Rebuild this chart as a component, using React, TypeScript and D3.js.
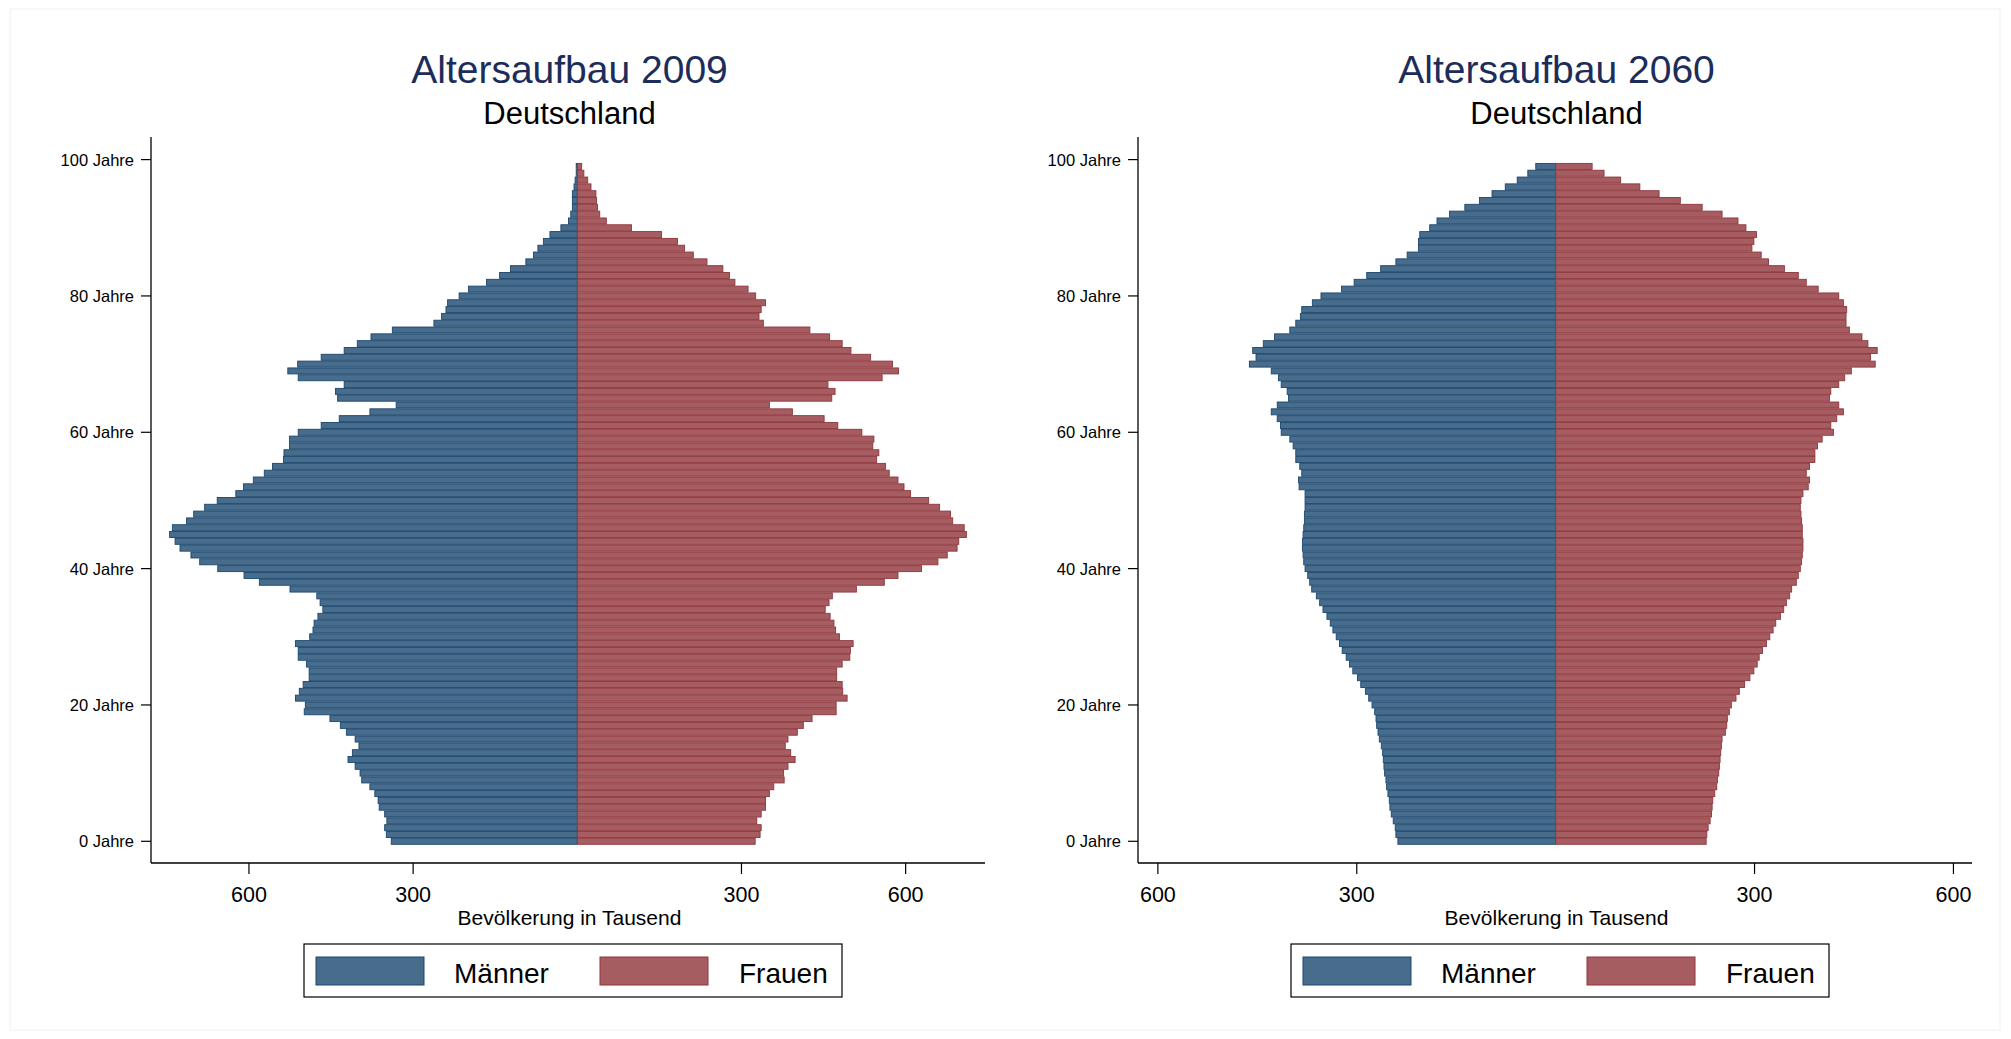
import React, { useEffect, useRef } from 'react';
import * as d3 from 'd3';

// Bevölkerung in Tausend, Alter 0 bis 99
const ages = d3.range(0, 100);

const men2009 = [
  340, 349, 352, 348, 352, 362, 364, 370, 379, 394,
  397, 406, 419, 411, 399, 406, 422, 433, 452, 499,
  497, 515, 508, 501, 490, 490, 495, 510, 510, 515,
  489, 483, 481, 474, 465, 470, 476, 525, 581, 609,
  657, 690, 706, 726, 735, 745, 740, 714, 701, 681,
  658, 624, 610, 592, 572, 557, 537, 536, 526, 526,
  510, 468, 435, 379, 331, 438, 442, 426, 510, 529,
  511, 468, 426, 402, 377, 338, 262, 248, 240, 237,
  216, 199, 166, 142, 122, 94, 80, 72, 62, 50,
  30, 16, 12, 9, 9, 9, 6, 4, 2, 2,
];

const women2009 = [
  325, 334, 336, 328, 336, 344, 344, 351, 359, 378,
  377, 385, 398, 390, 380, 385, 402, 413, 429, 473,
  473, 493, 485, 484, 474, 474, 484, 498, 499, 504,
  479, 472, 469, 462, 453, 460, 466, 510, 561, 586,
  629, 659, 676, 694, 697, 711, 707, 686, 682, 662,
  642, 609, 597, 586, 570, 563, 547, 551, 540, 542,
  520, 476, 451, 393, 351, 465, 471, 458, 557, 587,
  576, 536, 500, 484, 461, 425, 340, 332, 336, 344,
  326, 312, 288, 278, 266, 237, 212, 196, 183, 154,
  99, 53, 41, 37, 35, 34, 25, 19, 12, 8,
];

const men2060 = [
  238, 241, 242, 245, 248, 250, 251, 253, 255, 256,
  258, 259, 260, 261, 263, 266, 268, 270, 271, 273,
  277, 282, 287, 294, 299, 306, 311, 316, 322, 326,
  331, 336, 340, 345, 351, 356, 361, 368, 371, 374,
  378, 380, 381, 382, 382, 381, 380, 379, 379, 378,
  378, 378, 387, 388, 383, 386, 392, 392, 396, 401,
  414, 415, 420, 429, 420, 403, 405, 414, 418, 429,
  462, 452, 457, 441, 424, 401, 392, 385, 383, 367,
  354, 323, 304, 285, 264, 241, 224, 207, 207, 205,
  190, 179, 160, 137, 115, 96, 76, 58, 42, 30,
];

const women2060 = [
  227, 228, 230, 233, 235, 236, 237, 240, 243, 244,
  246, 247, 248, 249, 250, 251, 256, 258, 259, 262,
  265, 272, 277, 285, 293, 299, 304, 307, 312, 318,
  323, 328, 332, 339, 344, 348, 353, 356, 363, 366,
  369, 371, 372, 373, 373, 372, 372, 371, 370, 369,
  370, 373, 381, 383, 378, 383, 391, 391, 395, 402,
  419, 415, 424, 434, 427, 413, 415, 427, 436, 446,
  482, 475, 485, 471, 462, 443, 438, 438, 439, 434,
  427, 396, 378, 366, 345, 321, 310, 296, 299, 303,
  287, 275, 251, 221, 188, 156, 127, 98, 73, 55,
];

const yTicks = [0, 20, 40, 60, 80, 100];
const xTicks = [-600, -300, 300, 600];
const legendLabels = ['Männer', 'Frauen'];

const FONT = '"Liberation Sans", Arial, Helvetica, sans-serif';
const menFill = '#486c8c';
const menLine = '#1a476f';
const womenFill = '#a65d62';
const womenLine = '#90353b';

const drawPyramid = (svg, cfg) => {
  const { title, men, women, domain, xRange, titleX, legendX } = cfg;
  const g = svg.append('g');

  const x = d3.scaleLinear().domain(domain).range(xRange);
  const y = d3.scaleLinear().domain([0, 100]).range([841.3, 159.6]);
  const barH = 6.0;

  g.append('text')
    .attr('x', titleX)
    .attr('y', 83)
    .attr('text-anchor', 'middle')
    .style('font-family', FONT)
    .style('font-size', '39px')
    .style('fill', '#1c2d5a')
    .text(title);

  g.append('text')
    .attr('x', titleX)
    .attr('y', 124)
    .attr('text-anchor', 'middle')
    .style('font-family', FONT)
    .style('font-size', '31px')
    .style('fill', '#000')
    .text('Deutschland');

  // bars
  g.append('g')
    .selectAll('rect')
    .data(ages)
    .enter()
    .append('rect')
    .attr('x', (a) => x(-men[a]))
    .attr('y', (a) => y(a) - barH / 2)
    .attr('width', (a) => x(0) - x(-men[a]))
    .attr('height', barH)
    .attr('fill', menFill)
    .attr('stroke', menLine)
    .attr('stroke-width', 0.9);

  g.append('g')
    .selectAll('rect')
    .data(ages)
    .enter()
    .append('rect')
    .attr('x', x(0))
    .attr('y', (a) => y(a) - barH / 2)
    .attr('width', (a) => x(women[a]) - x(0))
    .attr('height', barH)
    .attr('fill', womenFill)
    .attr('stroke', womenLine)
    .attr('stroke-width', 0.9);

  // axes
  const x0 = xRange[0];
  const axisY = 863;
  g.append('line')
    .attr('x1', x0).attr('x2', x0)
    .attr('y1', 137).attr('y2', axisY)
    .attr('stroke', '#000').attr('stroke-width', 1.3);
  g.append('line')
    .attr('x1', x0).attr('x2', xRange[1])
    .attr('y1', axisY).attr('y2', axisY)
    .attr('stroke', '#000').attr('stroke-width', 1.3);

  yTicks.forEach((t) => {
    g.append('line')
      .attr('x1', x0 - 10).attr('x2', x0)
      .attr('y1', y(t)).attr('y2', y(t))
      .attr('stroke', '#000').attr('stroke-width', 1.2);
    g.append('text')
      .attr('x', x0 - 17)
      .attr('y', y(t) + 6)
      .attr('text-anchor', 'end')
      .style('font-family', FONT)
      .style('font-size', '16.5px')
      .text(`${t} Jahre`);
  });

  xTicks.forEach((t) => {
    g.append('line')
      .attr('x1', x(t)).attr('x2', x(t))
      .attr('y1', axisY).attr('y2', axisY + 11)
      .attr('stroke', '#000').attr('stroke-width', 1.2);
    g.append('text')
      .attr('x', x(t))
      .attr('y', 902)
      .attr('text-anchor', 'middle')
      .style('font-family', FONT)
      .style('font-size', '21.5px')
      .text(Math.abs(t));
  });

  g.append('text')
    .attr('x', titleX)
    .attr('y', 925)
    .attr('text-anchor', 'middle')
    .style('font-family', FONT)
    .style('font-size', '21px')
    .text('Bevölkerung in Tausend');

  // legend
  const lg = g.append('g').attr('transform', `translate(${legendX},944)`);
  lg.append('rect')
    .attr('width', 538).attr('height', 53)
    .attr('fill', '#fff').attr('stroke', '#000').attr('stroke-width', 1.2);
  const items = [
    { label: legendLabels[0], fill: menFill, line: menLine, sx: 12, tx: 150 },
    { label: legendLabels[1], fill: womenFill, line: womenLine, sx: 296, tx: 435 },
  ];
  items.forEach((it) => {
    lg.append('rect')
      .attr('x', it.sx).attr('y', 13)
      .attr('width', 108).attr('height', 28)
      .attr('fill', it.fill).attr('stroke', it.line).attr('stroke-width', 1);
    lg.append('text')
      .attr('x', it.tx).attr('y', 39)
      .style('font-family', FONT)
      .style('font-size', '28px')
      .text(it.label);
  });
};

const App = () => {
  const ref = useRef(null);

  useEffect(() => {
    if (!ref.current) return;
    const svg = d3.select(ref.current);
    svg.selectAll('*').remove();

    // faint outer frame
    svg.append('rect')
      .attr('x', 10).attr('y', 9)
      .attr('width', 1990).attr('height', 1021)
      .attr('fill', 'none')
      .attr('stroke', '#f0f0f0')
      .attr('stroke-width', 1);

    drawPyramid(svg, {
      title: 'Altersaufbau 2009',
      men: men2009,
      women: women2009,
      domain: [-779, 745],
      xRange: [151, 985],
      titleX: 569.5,
      legendX: 304,
    });

    drawPyramid(svg, {
      title: 'Altersaufbau 2060',
      men: men2060,
      women: women2060,
      domain: [-630, 628],
      xRange: [1138, 1972],
      titleX: 1556.5,
      legendX: 1291,
    });
  }, []);

  return (
    <svg
      ref={ref}
      width={2011}
      height={1039}
      style={{ position: 'absolute', left: 0, top: 0, background: '#fff' }}
    />
  );
};

export default App;
